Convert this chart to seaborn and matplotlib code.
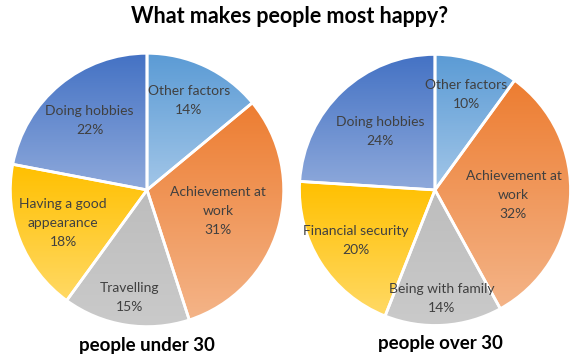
import numpy as np
import matplotlib
matplotlib.use("Agg")
import matplotlib.pyplot as plt
import matplotlib.colors as mcolors
import seaborn as sns

# data
under_labels = ["Other factors", "Achievement at\nwork", "Travelling",
                "Having a good\nappearance", "Doing hobbies"]
under_values = [14, 31, 15, 18, 22]
over_labels = ["Other factors", "Achievement at\nwork", "Being with family",
               "Financial security", "Doing hobbies"]
over_values = [10, 32, 14, 20, 24]

# gradient colours per slice (top, bottom)
grad_colors = [("#5B9BD5", "#A2C6E8"), ("#ED7D31", "#F4B488"),
               ("#BDBDBD", "#CACACA"), ("#FFC000", "#FFD965"),
               ("#4472C4", "#8EA9DB")]
under_dist = [0.72, 0.54, 0.80, 0.66, 0.66]
over_dist = [0.74, 0.58, 0.80, 0.69, 0.59]

sns.set_theme(style="white")
plt.rcParams["font.family"] = ["Lato", "DejaVu Sans"]

fig = plt.figure(figsize=(5.8, 3.6), dpi=100)


def draw_pie(ax, labels, values, dists):
    wedges, _ = ax.pie(values, startangle=90, counterclock=False, radius=1,
                       wedgeprops=dict(facecolor="none", edgecolor="white", linewidth=2))
    for w, (c0, c1), lab, v, d in zip(wedges, grad_colors, labels, values, dists):
        ext = w.get_path().get_extents()
        cmap = mcolors.LinearSegmentedColormap.from_list("g", [c0, c1])
        grad = cmap(np.linspace(0, 1, 128))[:, None, :3]
        im = ax.imshow(grad, extent=(ext.x0, ext.x1, ext.y0, ext.y1), origin="upper",
                       aspect="auto", zorder=0)
        im.set_clip_path(w)
        ang = np.deg2rad((w.theta1 + w.theta2) / 2)
        ax.text(d * np.cos(ang), d * np.sin(ang), f"{lab}\n{v}%", ha="center", va="center",
                fontsize=10, color="#404040", linespacing=1.7, zorder=3)
    ax.set_xlim(-1.01, 1.01)
    ax.set_ylim(-1.01, 1.01)
    ax.set_aspect("equal")
    ax.axis("off")


ax1 = fig.add_axes([0.0155, 0.0889, 0.476, 0.767])
draw_pie(ax1, under_labels, under_values, under_dist)
ax2 = fig.add_axes([0.514, 0.0889, 0.472, 0.767])
draw_pie(ax2, over_labels, over_values, over_dist)

fig.text(0.5, 0.953, "What makes people most happy?", ha="center", va="center",
         fontsize=15.5, fontweight="bold", color="black")
fig.text(147 / 580, 1 - 345 / 360, "people under 30", ha="center", va="center",
         fontsize=13.5, fontweight="bold", color="black")
fig.text(440 / 580, 1 - 343 / 360, "people over 30", ha="center", va="center",
         fontsize=13.5, fontweight="bold", color="black")

fig.savefig("out.png", dpi=100)
